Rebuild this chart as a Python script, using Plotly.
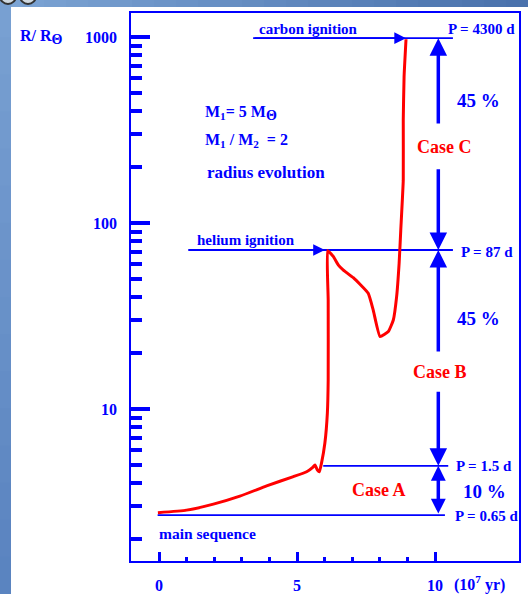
import math
import plotly.graph_objects as go

BLUE = "#0000FF"
RED = "#FF0000"
SERIF = "Liberation Serif"

# Radius evolution of the primary: time (10^7 yr) and radius (R_sun)
t_evol = [-0.04, 1.00, 1.97, 2.93, 3.90, 4.87, 5.35, 5.57, 5.65, 5.74, 5.81, 5.89,
          6.01, 6.10, 6.13, 6.13, 6.11, 6.32, 6.50, 6.68, 7.04, 7.58, 7.76, 8.01,
          8.31, 8.49, 8.61, 8.70, 8.76, 8.85, 8.85, 8.88, 8.95]
r_evol = [2.77, 2.86, 3.08, 3.40, 3.86, 4.33, 4.60, 4.86, 5.00, 4.70, 4.60, 5.13,
          6.56, 9.5, 14.3, 38.5, 71.0, 65.9, 59.4, 55.8, 50.8, 41.9, 34.1, 24.5,
          26.1, 30.1, 40.2, 60.7, 91.6, 170, 358, 612, 972]

# Critical radii with the corresponding orbital periods
level_r = [985, 71.6, 4.95, 2.69]
level_t0 = [3.41, 1.06, 5.95, -0.05]
level_t1 = [10.65, 10.65, 10.48, 10.36]
period_labels = ["P = 4300 d", "P = 87 d", "P = 1.5 d", "P = 0.65 d"]

# Ignition markers: label and arrow tip time
ignition_labels = ["carbon ignition", "helium ignition"]
ignition_tip = [8.95, 6.01]

# Mass-transfer cases and the share of systems in each
case_names = ["Case C", "Case B", "Case A"]
case_share = ["45 %", "45 %", "10 %"]
arrow_t = 10.12

x_ticks = [0, 5, 10]
x_minor = [1, 2, 3, 4, 6, 7, 8, 9]
y_ticks = [10, 100, 1000]
y_minor = [m * d for d in (1, 10, 100) for m in range(2, 10)]

L = math.log10

fig = go.Figure()

for r, a, b in zip(level_r, level_t0, level_t1):
    fig.add_trace(go.Scatter(x=[a, b], y=[r, r], mode="lines",
                             line=dict(color=BLUE, width=1.8),
                             hoverinfo="skip", showlegend=False))

fig.add_trace(go.Scatter(x=t_evol, y=r_evol, mode="lines",
                         line=dict(color=RED, width=3, shape="spline", smoothing=0.4),
                         hoverinfo="skip", showlegend=False))

ann = []

def text(x, y, s, size, color=BLUE, xanchor="center"):
    # y is a radius; log axes take log10 positions for annotations
    ann.append(dict(x=x, y=L(y), xref="x", yref="y", text=s, showarrow=False,
                    xanchor=xanchor, yanchor="middle",
                    font=dict(family=SERIF, size=size, color=color, weight="bold")))

def arrow(x0, y0, x1, y1, width, size, both=False):
    a = dict(x=x1, y=L(y1), ax=x0, ay=L(y0), xref="x", yref="y",
             axref="x", ayref="y", text="", showarrow=True,
             arrowhead=2, arrowsize=size, arrowwidth=width, arrowcolor=BLUE)
    if both:
        a.update(arrowside="end+start", startarrowhead=2, startarrowsize=size)
    ann.append(a)

SUN = '<sub><span style="font-size:14px">Θ</span></sub>'

# ignition arrows
arrow(level_t0[0], level_r[0], ignition_tip[0], level_r[0], 1.8, 1.3)
arrow(level_t0[1], level_r[1], ignition_tip[1], level_r[1], 1.8, 1.3)
text(5.40, 10 ** 3.043, ignition_labels[0], 15)
text(3.15, 10 ** 1.909, ignition_labels[1], 15)

# period labels
text(11.70, 10 ** 3.043, period_labels[0], 15)
text(11.88, 10 ** 1.844, period_labels[1], 15)
text(11.78, 10 ** 0.694, period_labels[2], 15)
text(11.85, 10 ** 0.425, period_labels[3], 15)

# case arrows
arrow(arrow_t, 336, arrow_t, level_r[0], 3.5, 1.0)
arrow(arrow_t, 198, arrow_t, level_r[1], 3.5, 1.0)
arrow(arrow_t, 20.0, arrow_t, level_r[1], 3.5, 1.0)
arrow(arrow_t, 12.6, arrow_t, level_r[2], 3.5, 1.0)
arrow(arrow_t, level_r[3], arrow_t, level_r[2], 3.5, 0.85, both=True)

text(10.33, 10 ** 2.409, case_names[0], 18, RED)
text(10.18, 10 ** 1.199, case_names[1], 18, RED)
text(7.97, 10 ** 0.565, case_names[2], 18, RED)
text(11.59, 10 ** 2.661, case_share[0], 19)
text(11.59, 10 ** 1.489, case_share[1], 19)
text(11.81, 10 ** 0.559, case_share[2], 19)

text(1.74, 10 ** 0.333, "main sequence", 15.5)
text(1.59, 10 ** 2.591, "M<sub>1</sub>= 5 M" + SUN, 16, xanchor="left")
text(1.59, 10 ** 2.446, "M<sub>1</sub> / M<sub>2</sub>  = 2", 16, xanchor="left")
text(3.88, 10 ** 2.269, "radius evolution", 17)

# slide frame geometry: pixel -> paper fractions
def pxx(px):
    return (px - 130) / 390
def pxy(py):
    return (562 - py) / 550

# axis captions
ann.append(dict(x=10.62, y=pxy(583), xref="x", yref="paper", yanchor="middle",
                xanchor="left", text="(10<sup>7</sup> yr)", showarrow=False,
                font=dict(family=SERIF, size=16, color=BLUE, weight="bold")))
ann.append(dict(x=pxx(41), y=pxy(37), xref="paper", yref="paper", yanchor="middle",
                xanchor="center", text="R/ R" + SUN, showarrow=False,
                font=dict(family=SERIF, size=16, color=BLUE, weight="bold")))

# blue gradient strips around the white page
shapes = []
n = 24
for i in range(n):
    f = i / (n - 1)
    c = (int(124 - 50 * f), int(164 - 50 * f), int(212 - 40 * f))
    shapes.append(dict(type="rect", xref="paper", yref="paper",
                       x0=pxx(528 * i / n), x1=pxx(528 * (i + 1) / n + 1),
                       y0=pxy(7), y1=pxy(-2), line=dict(width=0),
                       fillcolor="rgb(%d,%d,%d)" % c))
m = 16
for i in range(m):
    f = i / (m - 1)
    c = (int(120 - 30 * f), int(160 - 28 * f), int(210 - 18 * f))
    shapes.append(dict(type="rect", xref="paper", yref="paper",
                       x0=pxx(-2), x1=pxx(11),
                       y0=pxy(594 * (i + 1) / m + 1), y1=pxy(594 * i / m),
                       line=dict(width=0), fillcolor="rgb(%d,%d,%d)" % c))
for cx in (8, 28):
    shapes.append(dict(type="circle", xref="paper", yref="paper",
                       x0=pxx(cx - 8), x1=pxx(cx + 8), y0=pxy(4), y1=pxy(-12),
                       line=dict(color="#333333", width=2), fillcolor="#cfd8e0"))
# plot frame
shapes.append(dict(type="rect", xref="paper", yref="paper", x0=0, x1=1, y0=0, y1=1,
                   line=dict(color=BLUE, width=2)))

tickfont = dict(family=SERIF, size=16, color=BLUE, weight="bold")
fig.update_layout(
    width=528, height=594,
    margin=dict(l=130, r=8, t=12, b=32, autoexpand=False),
    paper_bgcolor="white", plot_bgcolor="rgba(0,0,0,0)",
    annotations=ann, shapes=shapes,
    xaxis=dict(range=[-1.051, 13.08], showgrid=False, zeroline=False,
               showline=False, tickmode="array", tickvals=x_ticks,
               ticktext=[str(v) for v in x_ticks],
               ticks="inside", ticklen=10, tickwidth=3, tickcolor=BLUE,
               tickfont=tickfont, ticklabelstandoff=12,
               minor=dict(tickmode="array", tickvals=x_minor, ticks="inside",
                          ticklen=5, tickwidth=3, tickcolor=BLUE, showgrid=False)),
    yaxis=dict(type="log", range=[0.1774, 3.1344], showgrid=False, zeroline=False,
               showline=False, tickmode="array", tickvals=y_ticks,
               ticktext=[str(v) for v in y_ticks],
               ticks="inside", ticklen=20, tickwidth=4, tickcolor=BLUE,
               tickfont=tickfont, ticklabelstandoff=12,
               minor=dict(tickmode="array", tickvals=y_minor, ticks="inside",
                          ticklen=12, tickwidth=3.5, tickcolor=BLUE, showgrid=False)),
)

fig.write_html("out.html")
